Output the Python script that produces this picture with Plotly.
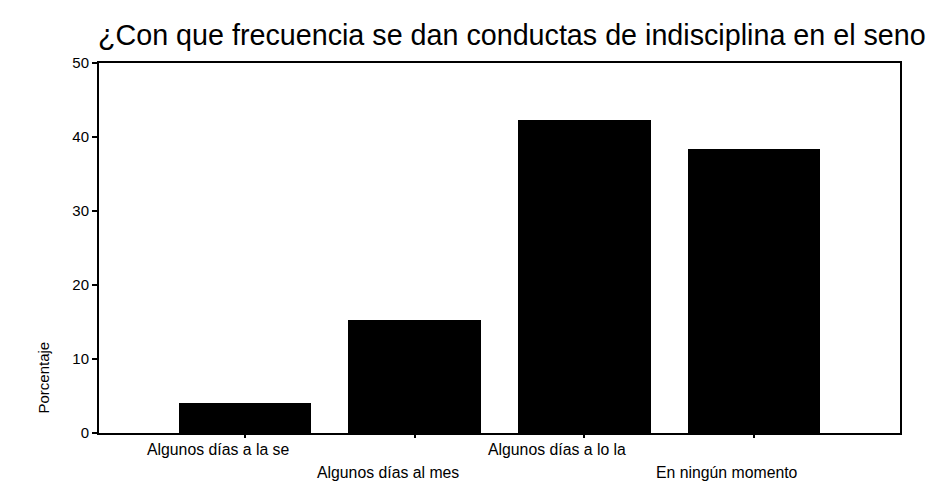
import plotly.graph_objects as go

categories = ["Algunos días a la se", "Algunos días al mes", "Algunos días a lo la", "En ningún momento"]
values = [4.0, 15.3, 42.3, 38.4]
y_ticks = [0, 10, 20, 30, 40, 50]
title_text = "¿Con que frecuencia se dan conductas de indisciplina en el seno"
y_title = "Porcentaje"

FONT = "Liberation Sans, Arial, sans-serif"

# page body adds an 8px offset; compensate
W, H = 935, 477

fig = go.Figure()
fig.add_trace(go.Bar(
    x=categories, y=values, width=0.78,
    marker=dict(color="black", line=dict(width=0)),
    showlegend=False,
))

annotations = []
for i, cat in enumerate(categories):
    row = i % 2
    annotations.append(dict(
        x=cat, xref="x", y=0, yref="paper",
        text=cat, showarrow=False, xanchor="center", yanchor="middle",
        xshift=-27, yshift=-16 if row == 0 else -39,
        font=dict(family=FONT, size=15.8, color="black"),
    ))
annotations.append(dict(
    x=0, xref="paper", xshift=-56, y=0.15, yref="paper",
    text=y_title, showarrow=False, textangle=-90,
    xanchor="center", yanchor="middle",
    font=dict(family=FONT, size=15, color="black"),
))

fig.update_layout(
    width=W, height=H,
    margin=dict(l=91, r=43, t=55, b=52),
    paper_bgcolor="white", plot_bgcolor="white",
    title=dict(text=title_text, xref="container", x=90 / W, xanchor="left",
               yref="container", y=1 - 27 / H, yanchor="middle",
               font=dict(family=FONT, size=28.7, color="black")),
    annotations=annotations,
    bargap=0,
)
fig.update_xaxes(
    type="category", range=[-0.86, 3.86],
    showticklabels=False, ticks="outside", ticklen=3, tickwidth=2, tickcolor="black",
    showline=True, linecolor="black", linewidth=2, mirror=True, showgrid=False,
)
fig.update_yaxes(
    range=[0, 50], tickvals=y_ticks, ticktext=[str(v) for v in y_ticks],
    ticks="outside", ticklen=5, tickwidth=2, tickcolor="black",
    showline=True, linecolor="black", linewidth=2, mirror=True, showgrid=False,
    zeroline=False, tickfont=dict(family=FONT, size=15, color="black"),
)

fig.write_html("out.html")
